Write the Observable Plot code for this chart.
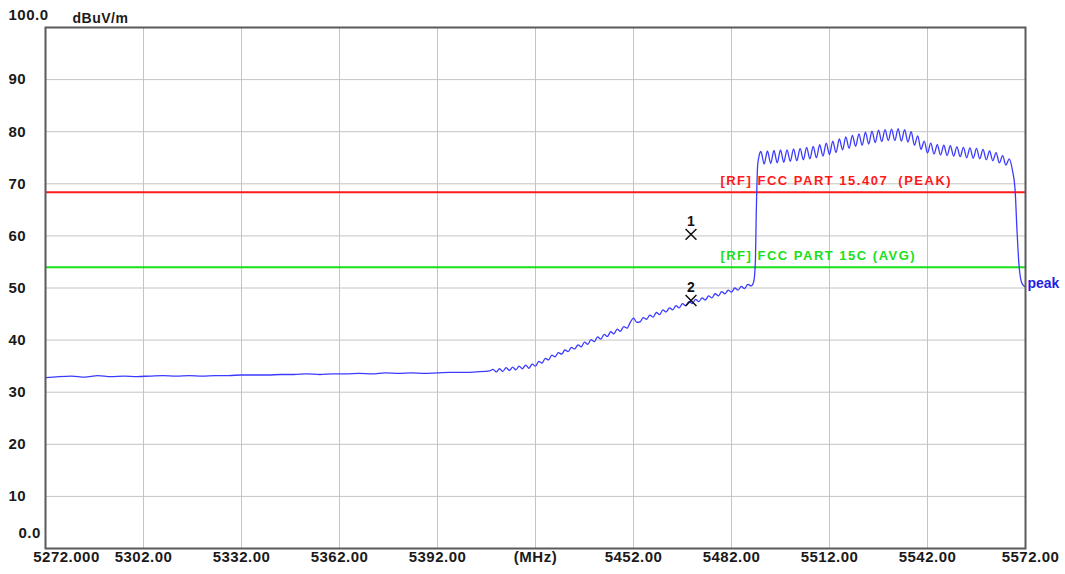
<!DOCTYPE html>
<html><head><meta charset="utf-8">
<script src="https://cdn.jsdelivr.net/npm/d3@7"></script>
<script src="https://cdn.jsdelivr.net/npm/@observablehq/plot@0.6"></script>
<style>
body{margin:0;background:#fff;}
.lim-label text{letter-spacing:1.5px;}
.tick-label text{letter-spacing:0.5px;}
</style>
</head><body><div id="chart"></div>
<script>
const xTickValues = [5272, 5302, 5332, 5362, 5392, 5422, 5452, 5482, 5512, 5542, 5572];
const xTickLabels = ["5272.000", "5302.00", "5332.00", "5362.00", "5392.00", "(MHz)", "5452.00", "5482.00", "5512.00", "5542.00", "5572.00"];
const yTickValues = [0, 10, 20, 30, 40, 50, 60, 70, 80, 90, 100];
const yTickLabels = ["0.0", "10", "20", "30", "40", "50", "60", "70", "80", "90", "100.0"];
const unitLabel = "dBuV/m";
const limitNames = ["[RF] FCC PART 15.407  (PEAK)", "[RF] FCC PART 15C (AVG)"];
const limitLevels = [68.4, 54.0];
const limitColors = ["#ff1a1a", "#19e019"];
const limitLabelFreq = 5478.6;
const markerIds = ["1", "2"];
const markerFreqs = [5469.6, 5469.6];
const markerLevels = [60.3, 47.6];
const traceName = "peak";
const traceFreq = [
 5272,5276,5280,5284,5288,5292,5296,5300,5304,5308,5312,5316,5320,5324,5328,5332,5336,5340,5344,5348,
 5352,5356,5360,5364,5368,5372,5376,5380,5384,5388,5392,5396,5400,5404,5408,
 5409,5410,5411,5412,5413,5414,5415,5416,5417,5418,5419,5420,5421,5422,5423,5424,5425,5426,5427,5428,
 5429,5430,5431,5432,5433,5434,5435,5436,5437,5438,5439,5440,5441,5442,5443,5444,5445,5446,5447,5448,
 5449,5450,5451,5452,5453,5454,5455,5456,5457,5458,5459,5460,5461,5462,5463,5464,5465,5466,5467,5468,
 5469,5470,5471,5472,5473,5474,5475,5476,5477,5478,5479,5480,5481,5482,5483,5484,5485,5486,5487,5488,
 5488.8,5489.3,5489.6,5490,5490.5,
 5491,5492,5493,5494,5495,5496,5497,5498,5499,5500,5501,5502,5503,5504,5505,5506,5507,5508,5509,5510,
 5511,5512,5513,5514,5515,5516,5517,5518,5519,5520,5521,5522,5523,5524,5525,5526,5527,5528,5529,5530,
 5531,5532,5533,5534,5535,5536,5537,5538,5539,5540,5541,5542,5543,5544,5545,5546,5547,5548,5549,5550,
 5551,5552,5553,5554,5555,5556,5557,5558,5559,5560,5561,5562,5563,5564,5565,5566,5567,5568,
 5568.8,5569.4,5570,5570.6,5571.2,5572
];
const traceLevel = [
 32.8,33.0,33.1,32.9,33.2,33.0,33.1,33.0,33.1,33.2,33.1,33.2,33.1,33.2,33.2,33.3,33.3,33.3,33.4,33.4,
 33.5,33.4,33.5,33.5,33.6,33.5,33.7,33.6,33.7,33.6,33.7,33.8,33.8,33.9,34.1,
 34.4,33.9,34.5,34.0,34.7,34.2,34.8,34.3,35.0,34.5,35.2,34.6,35.4,35.0,35.9,35.6,36.5,36.2,37.1,36.8,
 37.6,37.3,38.1,37.8,38.6,38.3,39.1,38.7,39.6,39.2,40.1,39.7,40.6,40.2,41.1,40.7,41.6,41.2,42.1,41.7,
 42.6,42.3,43.4,44.2,43.4,43.5,44.3,44.0,44.8,44.4,45.3,44.9,45.8,45.4,46.2,45.8,46.6,46.2,47.0,46.6,
 47.4,47.0,47.8,47.4,48.1,47.7,48.5,48.1,48.9,48.5,49.3,48.9,49.6,49.2,50.0,49.6,50.3,49.9,50.7,50.4,
 51.2,55.0,65.0,73.5,75.5,
 76.2,73.8,76.3,73.9,76.4,74.0,76.5,74.1,76.5,74.3,76.7,74.4,76.8,74.6,77.0,74.8,77.2,75.0,77.5,75.3,
 77.8,75.6,78.2,76.0,78.6,76.5,79.0,76.8,79.3,77.2,79.6,77.4,79.9,77.6,80.1,77.9,80.3,78.1,80.4,78.3,
 80.5,78.3,80.6,78.2,80.4,78.0,80.0,77.4,79.2,76.6,78.2,75.9,77.8,75.7,77.5,75.5,77.4,75.4,77.3,75.3,
 77.1,75.2,77.0,75.0,76.9,74.9,76.8,74.8,76.6,74.6,76.3,74.4,76.0,74.0,75.4,73.6,74.8,72.6,
 69.0,61.0,54.5,51.5,50.6,50.2
];

const trace = traceFreq.map((f, i) => ({f, v: traceLevel[i]}));
const limits = limitNames.map((n, i) => ({name: n, v: limitLevels[i], color: limitColors[i]}));
const markers = markerIds.map((id, i) => ({id, f: markerFreqs[i], v: markerLevels[i]}));
const xTicks = xTickValues.map((v, i) => ({v, label: xTickLabels[i], i}));
const yTicks = yTickValues.map((v, i) => ({v, label: yTickLabels[i], i}));
const nX = xTicks.length;
const lastY = yTicks.length - 1;

const font = "'Liberation Sans', Arial, sans-serif";
const tickText = {fill: "#1a1a1a", fontSize: 15, fontWeight: "bold", className: "tick-label"};

const chart = Plot.plot({
  width: 1065,
  height: 574,
  marginLeft: 45,
  marginRight: 40,
  marginTop: 27,
  marginBottom: 26,
  style: {fontFamily: font, background: "#fff"},
  x: {domain: [5272, 5572], axis: null},
  y: {domain: [0, 100], axis: null},
  marks: [
    Plot.gridX(xTickValues, {stroke: "#c4c4c4", strokeOpacity: 1, strokeWidth: 1}),
    Plot.gridY(yTickValues, {stroke: "#c4c4c4", strokeOpacity: 1, strokeWidth: 1}),
    Plot.ruleY(limits, {y: "v", stroke: "color", strokeWidth: 2}),
    Plot.text(limits, {x: () => limitLabelFreq, y: "v", text: "name", fill: "color", textAnchor: "start",
      dy: -11, fontSize: 13, fontWeight: "bold", className: "lim-label"}),
    Plot.line(trace, {x: "f", y: "v", stroke: "#3b3bff", strokeWidth: 1.3, curve: "monotone-x"}),
    Plot.text([trace[trace.length - 1]], {x: "f", y: "v", text: () => traceName, fill: "#1f1fe6",
      textAnchor: "start", dx: 2, dy: -3, fontSize: 14, fontWeight: "bold"}),
    Plot.dot(markers, {x: "f", y: "v", symbol: "times", r: 5, stroke: "#111", strokeWidth: 1.5}),
    Plot.text(markers, {x: "f", y: "v", text: "id", dy: -13, fill: "#111", fontSize: 14, fontWeight: "bold"}),
    Plot.frame({stroke: "#5a5a5a", strokeWidth: 2}),
    // x tick labels
    Plot.text(xTicks, {filter: d => d.i > 0 && d.i < nX - 1, x: "v", text: "label", frameAnchor: "bottom",
      lineAnchor: "top", dy: 3, ...tickText}),
    Plot.text(xTicks, {filter: d => d.i === 0, x: "v", text: "label", frameAnchor: "bottom",
      lineAnchor: "top", dy: 3, dx: 21, ...tickText}),
    Plot.text(xTicks, {filter: d => d.i === nX - 1, x: "v", text: "label", frameAnchor: "bottom",
      lineAnchor: "top", dy: 3, dx: 5, ...tickText}),
    // y tick labels
    Plot.text(yTicks, {filter: d => d.i > 0 && d.i < lastY, y: "v", text: "label", frameAnchor: "left",
      textAnchor: "start", dx: -37, ...tickText}),
    Plot.text(yTicks, {filter: d => d.i === 0, y: "v", text: "label", frameAnchor: "left",
      textAnchor: "start", dx: -27, dy: -15, ...tickText}),
    Plot.text(yTicks, {filter: d => d.i === lastY, y: "v", text: "label", frameAnchor: "left",
      textAnchor: "start", dx: -37, dy: -12, ...tickText}),
    Plot.text([unitLabel], {frameAnchor: "top-left", text: d => d, textAnchor: "start", dx: 27, dy: -14,
      ...tickText, fontSize: 14})
  ]
});
document.getElementById("chart").appendChild(chart);
</script>
</body></html>
